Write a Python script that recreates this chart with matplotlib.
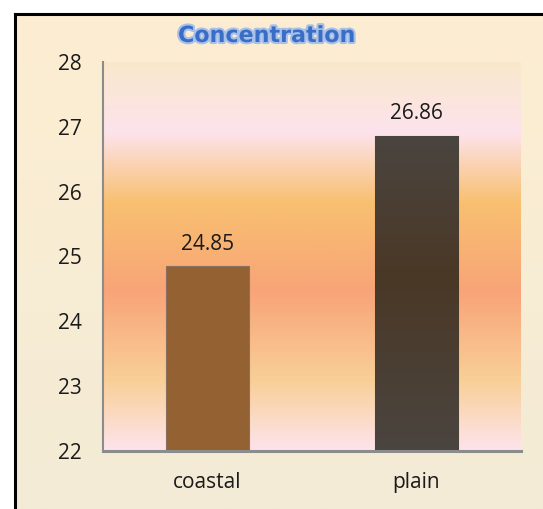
import numpy as np
import matplotlib.pyplot as plt
import matplotlib.patheffects as pe
from matplotlib.colors import LinearSegmentedColormap

categories = ['coastal', 'plain']
values = [24.85, 26.86]
bar_colors = ['#946232', '#4a3a28']
y_ticks = [22, 23, 24, 25, 26, 27, 28]

W, H = 543, 509
fig = plt.figure(figsize=(W / 100, H / 100), dpi=100)
fig.patch.set_facecolor('white')

# cream page behind everything, inside the black frame
bg = fig.add_axes([15 / W, 0, 1 - 15 / W, 1 - 14 / H])
page = LinearSegmentedColormap.from_list('page', ['#f3ebd6', '#fdeed2'])
bg.imshow(np.linspace(0, 1, 256).reshape(-1, 1)[::-1], aspect='auto', cmap=page,
          extent=[0, 1, 0, 1])
bg.set_xlim(0, 1)
bg.set_ylim(0, 1)
bg.axis('off')

# frame: left and top edges only
fig.add_artist(plt.Line2D([15 / W, 15 / W], [0, 1 - 14 / H], color='black', lw=2.2,
                          transform=fig.transFigure))
fig.add_artist(plt.Line2D([15 / W, 1], [1 - 14 / H, 1 - 14 / H], color='black', lw=2.2,
                          transform=fig.transFigure))

ax = fig.add_axes([103 / W, 1 - 451 / H, (521 - 103) / W, (451 - 62) / H])
ax.set_xlim(-0.5, 1.5)
ax.set_ylim(22, 28)

# plot-area gradient, top to bottom
stops = [(0.0, '#f9e8cc'), (0.18, '#fde3ec'), (0.36, '#f8c070'), (0.59, '#f8a478'),
         (0.82, '#f9cf98'), (1.0, '#fde4ec')]
plot_cm = LinearSegmentedColormap.from_list('plotbg', stops)
ax.imshow(np.linspace(0, 1, 512).reshape(-1, 1), aspect='auto', cmap=plot_cm,
          extent=[-0.5, 1.5, 22, 28], zorder=0)

x = np.arange(len(categories))
bars = ax.bar(x, np.array(values) - 22, bottom=22, width=0.4, color=bar_colors,
              edgecolor='#8a7060', linewidth=0.8, zorder=2)

# darker bar gets a soft grey-brown-grey shading
dark_cm = LinearSegmentedColormap.from_list('dark', [(0, '#4b4540'), (0.45, '#4a3826'),
                                                     (1, '#4b4540')])
b = bars[1]
shade = ax.imshow(np.linspace(0, 1, 256).reshape(-1, 1), aspect='auto', cmap=dark_cm,
                  extent=[b.get_x(), b.get_x() + b.get_width(), 22, values[1]], zorder=2.5)
shade.set_clip_path(b)
ax.set_xlim(-0.5, 1.5)
ax.set_ylim(22, 28)

for xi, v in zip(x, values):
    ax.text(xi, v + 0.18, f'{v:.2f}', ha='center', va='bottom', fontsize=15,
            color='#1a1a1a', family='Open Sans')

ax.set_xticks(x)
ax.set_xticklabels(categories, fontsize=15, color='#1a1a1a', family='Open Sans')
ax.set_yticks(y_ticks)
ax.set_yticklabels([str(t) for t in y_ticks], fontsize=15, color='#1a1a1a',
                   family='Open Sans')
ax.tick_params(axis='both', length=0)
ax.tick_params(axis='y', pad=15)
ax.tick_params(axis='x', pad=15)

for side in ['top', 'right']:
    ax.spines[side].set_visible(False)
ax.spines['left'].set_color('#8c8c8c')
ax.spines['left'].set_linewidth(1.5)
ax.spines['bottom'].set_color('#8c8c8c')
ax.spines['bottom'].set_linewidth(2.2)

fig.text(267 / W, 1 - 36 / H, 'Concentration', ha='center', va='center',
         fontsize=16, fontweight='bold', color='#3a6ec6', family='DejaVu Sans',
         path_effects=[pe.withStroke(linewidth=3, foreground='#a9c0e8')])

fig.savefig('out.png', dpi=100)
